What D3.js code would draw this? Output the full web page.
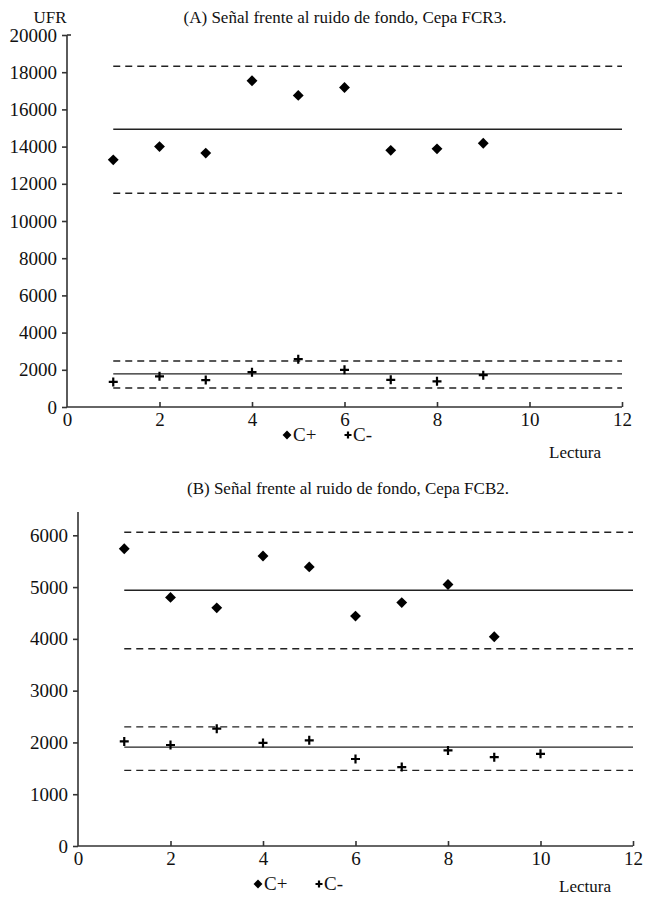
<!DOCTYPE html>
<html>
<head>
<meta charset="utf-8">
<script src="https://cdn.jsdelivr.net/npm/d3@7"></script>
<style>
  body { margin: 0; background: #fff; }
  svg text { font-family: "Liberation Serif", "DejaVu Serif", serif; fill: #111; }
</style>
</head>
<body>
<div id="chart"></div>
<script>
var W = 648,
    H = 900,
    FONT = '"Liberation Serif", "DejaVu Serif", serif';

var lecturas = [1, 2, 3, 4, 5, 6, 7, 8, 9, 10];
var xTicks = [0, 2, 4, 6, 8, 10, 12];

// panel A, cepa FCR3
var aPos = [13290, 14000, 13650, 17540, 16750, 17180, 13800, 13880, 14180];
var aNeg = [1350, 1650, 1450, 1870, 2570, 2000, 1460, 1380, 1710];
var aPosLimits = [18320, 14930, 11490];   // upper, mean, lower
var aNegLimits = [2470, 1780, 1020];
var aYTicks = [0, 2000, 4000, 6000, 8000, 10000, 12000, 14000, 16000, 18000, 20000];

// panel B, cepa FCB2
var bPos = [5740, 4800, 4600, 5600, 5390, 4440, 4700, 5050, 4040];
var bNeg = [2020, 1950, 2265, 1990, 2040, 1680, 1525, 1845, 1715, 1780];
var bPosLimits = [6060, 4940, 3810];
var bNegLimits = [2300, 1910, 1460];
var bYTicks = [0, 1000, 2000, 3000, 4000, 5000, 6000];

var svg = d3.select("#chart").append("svg")
    .attr("width", W)
    .attr("height", H)
    .attr("font-family", FONT);

var diamond = d3.symbol().type(d3.symbolDiamond2).size(75);

function plus(g, x, y, s) {
  g.append("path")
    .attr("d", "M" + (x - s) + "," + y + "H" + (x + s) + "M" + x + "," + (y - s) + "V" + (y + s))
    .attr("stroke", "#000")
    .attr("stroke-width", 2.2)
    .attr("fill", "none");
}

function drawPanel(p) {
  var g = svg.append("g");

  var x = d3.scaleLinear().domain([0, 12]).range([p.left, p.right]);
  var y = d3.scaleLinear().domain([0, p.yMax]).range([p.bottom, p.top]);

  // title
  g.append("text")
    .attr("x", p.titleX)
    .attr("y", p.titleY)
    .attr("text-anchor", "middle")
    .style("font-size", "17px")
    .text(p.title);

  // y axis
  var yAxis = g.append("g")
    .attr("transform", "translate(" + p.left + ",0)")
    .call(d3.axisLeft(y).tickValues(p.yTicks).tickSize(5).tickPadding(5).tickFormat(d3.format("d")));
  yAxis.select(".domain").attr("d", "M0," + y(p.yMax) + "V" + p.bottom);
  if (p.topStub) {
    yAxis.append("path").attr("class", "domain").attr("d", "M0," + y(p.yMax) + "H4");
  }

  // x axis, ticks pointing up
  var xAxis = g.append("g")
    .attr("transform", "translate(0," + p.bottom + ")")
    .call(d3.axisBottom(x).tickValues(xTicks).tickSize(-5).tickPadding(6));
  xAxis.select(".domain").attr("d", "M" + p.left + ",0H" + p.right);
  xAxis.selectAll(".tick").filter(function(d) { return d === 0; }).select("line").remove();

  g.selectAll("g").attr("font-family", FONT);
  g.selectAll(".domain, .tick line")
    .attr("stroke", "#333")
    .attr("stroke-width", 1.6);
  g.selectAll(".tick text")
    .style("font-size", "19px")
    .style("font-family", FONT)
    .attr("fill", "#111");

  // control lines
  [p.posLimits, p.negLimits].forEach(function(lim) {
    lim.forEach(function(v, i) {
      g.append("line")
        .attr("x1", x(1)).attr("x2", x(12))
        .attr("y1", y(v)).attr("y2", y(v))
        .attr("stroke", "#222")
        .attr("stroke-width", 1.4)
        .attr("stroke-dasharray", i === 1 ? null : "7,5");
    });
  });

  // C+ points
  g.selectAll(".pos").data(p.pos).enter().append("path")
    .attr("class", "pos")
    .attr("d", diamond)
    .attr("transform", function(d, i) { return "translate(" + x(lecturas[i]) + "," + y(d) + ")"; })
    .attr("fill", "#000");

  // C- points
  p.neg.forEach(function(d, i) { plus(g, x(lecturas[i]), y(d), 4.5); });

  // legend
  var lg = g.append("g").attr("transform", "translate(" + p.legendX + "," + p.legendY + ")");
  lg.append("path").attr("d", d3.symbol().type(d3.symbolDiamond2).size(50)).attr("fill", "#000");
  lg.append("text").attr("x", 6).attr("y", 6).style("font-size", "19px").text("C+");
  plus(lg, 61, 0, 3.5);
  lg.append("text").attr("x", 66).attr("y", 6).style("font-size", "19px").text("C-");

  g.append("text")
    .attr("x", p.lecturaX)
    .attr("y", p.lecturaY)
    .attr("text-anchor", "middle")
    .style("font-size", "17px")
    .text("Lectura");

  if (p.yLabel) {
    g.append("text")
      .attr("x", p.left - 17)
      .attr("y", 23)
      .attr("text-anchor", "middle")
      .style("font-size", "17px")
      .text(p.yLabel);
  }
}

drawPanel({
  title: "(A) Señal frente al ruido de fondo, Cepa FCR3.",
  titleX: 345, titleY: 23,
  yLabel: "UFR",
  left: 67, right: 622, top: 35, bottom: 407,
  yMax: 20000, yTicks: aYTicks, topStub: true,
  pos: aPos, neg: aNeg, posLimits: aPosLimits, negLimits: aNegLimits,
  legendX: 287, legendY: 435,
  lecturaX: 575, lecturaY: 458
});

drawPanel({
  title: "(B) Señal frente al ruido de fondo, Cepa FCB2.",
  titleX: 348, titleY: 494,
  left: 78, right: 633, top: 512, bottom: 846,
  yMax: 6450, yTicks: bYTicks, topStub: false,
  pos: bPos, neg: bNeg, posLimits: bPosLimits, negLimits: bNegLimits,
  legendX: 258, legendY: 884,
  lecturaX: 585, lecturaY: 892
});
</script>
</body>
</html>
